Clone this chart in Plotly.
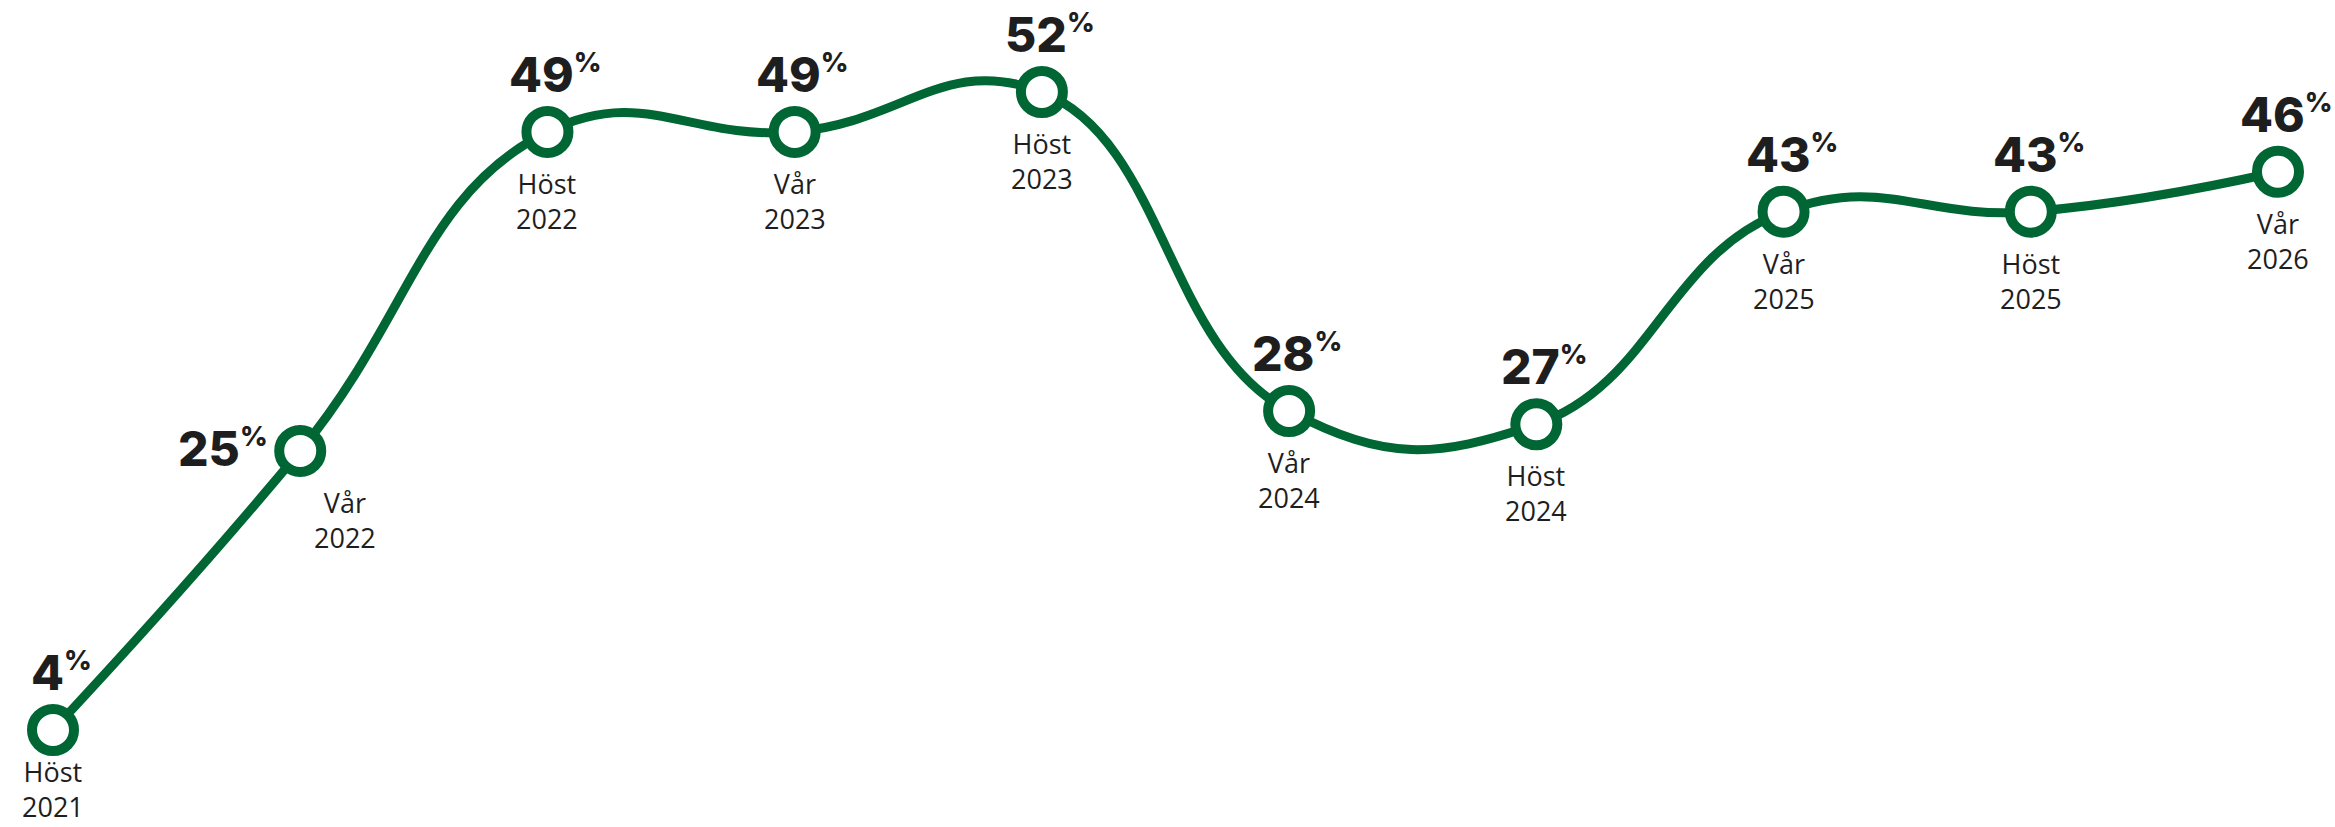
import plotly.graph_objects as go

# ---- data ----
seasons = ["Höst", "Vår", "Höst", "Vår", "Höst", "Vår", "Höst", "Vår", "Höst", "Vår"]
years = ["2021", "2022", "2022", "2023", "2023", "2024", "2024", "2025", "2025", "2026"]
values = [4, 25, 49, 49, 52, 28, 27, 43, 43, 46]

# ---- style ----
GREEN = "#006633"
TEXT = "#1e1e1e"
W, H = 2335, 827
placement = ["above"] * len(values)
placement[1] = "left"

xs = list(range(len(values)))

fig = go.Figure()
fig.add_trace(go.Scatter(
    x=xs, y=values, mode="lines+markers",
    line=dict(color=GREEN, width=9, shape="spline", smoothing=1.3),
    marker=dict(size=42, color="white", line=dict(color=GREEN, width=10)),
    cliponaxis=False, hoverinfo="skip", showlegend=False,
))

val_font = dict(family="Inter", size=48, color=TEXT, weight=800)
cat_font = dict(family="Open Sans", size=27, color=TEXT)

for i, (s, yr, v) in enumerate(zip(seasons, years, values)):
    vtxt = f"{v}<sup><span style='font-size:27px'>%</span></sup>"
    ctxt = f"{s}<br>{yr}"
    if placement[i] == "left":
        fig.add_annotation(x=i, y=v, text=vtxt, showarrow=False, font=val_font,
                           xanchor="right", yanchor="middle", xshift=-30, yshift=2)
        cx, cy = 45, -31
    else:
        fig.add_annotation(x=i, y=v, text=vtxt, showarrow=False, font=val_font,
                           xanchor="center", yanchor="bottom", xshift=8, yshift=26)
        cx, cy = 0, (-21 if i == 0 else -31)
    fig.add_annotation(x=i, y=v, text=ctxt, showarrow=False, font=cat_font,
                       xanchor="center", yanchor="top", xshift=cx, yshift=cy)

px_per_x = (2278 - 53) / 9
px_per_y = (730 - 92) / 48
fig.update_layout(
    width=W, height=H,
    margin=dict(l=0, r=0, t=0, b=0),
    paper_bgcolor="white", plot_bgcolor="white",
    xaxis=dict(visible=False, range=[-53 / px_per_x, 9 + (W - 2278) / px_per_x], fixedrange=True),
    yaxis=dict(visible=False, range=[4 - (H - 730) / px_per_y, 4 + 730 / px_per_y], fixedrange=True),
)

fig.write_html("out.html", config={"displayModeBar": False},
               post_script="document.body.style.margin='0';document.body.style.overflow='hidden';")
